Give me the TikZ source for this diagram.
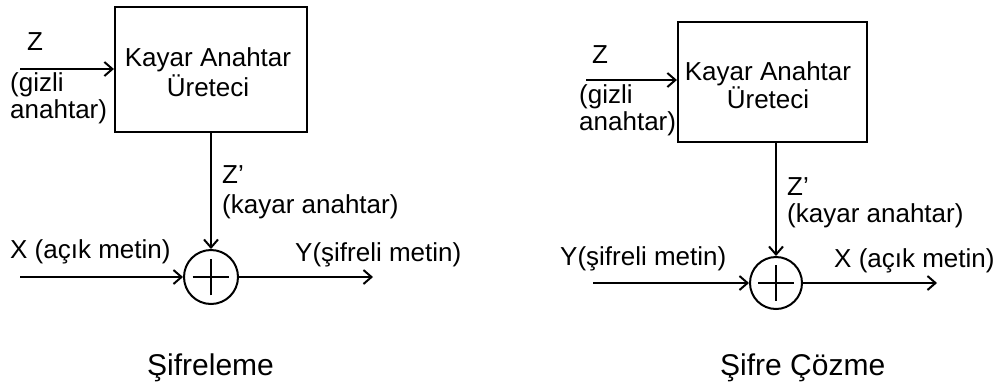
\documentclass[tikz,border=0pt]{standalone}
\usepackage{fontspec}
\setmainfont{Liberation Sans}
\usetikzlibrary{arrows.meta}
\begin{document}
\begin{tikzpicture}[x=1pt,y=-1pt,
  txt/.style={font=\fontsize{26}{29}\selectfont, inner sep=0pt, align=left},
  captxt/.style={font=\fontsize{30}{32}\selectfont, inner sep=0pt},
  box/.style={draw, line width=2.2pt, inner sep=0pt},
  xorop/.style={draw, circle, line width=2pt, inner sep=0pt,
    path picture={\draw[line width=2pt]
      ([xshift=-0.68*#1/2]path picture bounding box.center) -- ([xshift=0.68*#1/2]path picture bounding box.center)
      ([yshift=-0.68*#1/2]path picture bounding box.center) -- ([yshift=0.68*#1/2]path picture bounding box.center);}},
  arr/.style={line width=2pt, -{Straight Barb[length=8pt,width=14pt]}}]
\useasboundingbox (0,0) rectangle (993,389);

% ---------- Sifreleme (left) ----------
\node[box, minimum width=192pt, minimum height=125pt] (kl) at (211,69.5) {};
\node[txt, align=center, anchor=base] (klt) at (208,96) {Kayar Anahtar\\[1pt]Üreteci};
\node[xorop=54pt, minimum size=54pt] (xl) at (211,277) {};
\coordinate (zl) at (20,69);
\coordinate (xinl) at (20,277);
\coordinate (youtl) at (373,277);
\draw[arr] (zl) -- (zl -| kl.west);
\draw[arr] (kl.south) -- (xl.north);
\draw[arr] (xinl) -- (xl.west);
\draw[arr] (xl.east) -- (youtl);
\node[txt, anchor=base west] (zlab) at (27,50) {Z};
\node[txt, anchor=base west] (gl) at (10,118) {(gizli\\[-2pt]anahtar)};
\node[txt, anchor=base west] (zpl) at (222,213) {Z'\\[1pt](kayar anahtar)};
\node[txt, anchor=base west] (xlab) at (10,258) {X (açık metin)};
\node[txt, anchor=base west] (ylab) at (295,261) {Y(şifreli metin)};
\node[captxt, anchor=base west] (c1) at (147,375) {Şifreleme};

% ---------- Sifre Cozme (right) ----------
\node[box, minimum width=189pt, minimum height=120pt] (kr) at (772.5,82) {};
\node[txt, align=center, anchor=base] (krt) at (768,108) {Kayar Anahtar\\[-1pt]Üreteci};
\node[xorop=52pt, minimum size=52pt] (xr) at (776,283) {};
\coordinate (zr) at (586,80);
\coordinate (yinr) at (593,283);
\coordinate (xoutr) at (937,283);
\draw[arr] (zr) -- (zr -| kr.west);
\draw[arr] (kr.south -| xr.north) -- (xr.north);
\draw[arr] (yinr) -- (xr.west);
\draw[arr] (xr.east) -- (xoutr);
\node[txt, anchor=base west] (zrlab) at (592,63) {Z};
\node[txt, anchor=base west] (gr) at (579,130) {(gizli\\[-2pt]anahtar)};
\node[txt, anchor=base west] (zpr) at (787,222) {Z'\\[-2pt](kayar anahtar)};
\node[txt, anchor=base west] (yrlab) at (560,265) {Y(şifreli metin)};
\node[txt, anchor=base west] (xrlab) at (834,267) {X (açık metin)};
\node[captxt, anchor=base west] (c2) at (720,375) {Şifre Çözme};
\end{tikzpicture}
\end{document}
